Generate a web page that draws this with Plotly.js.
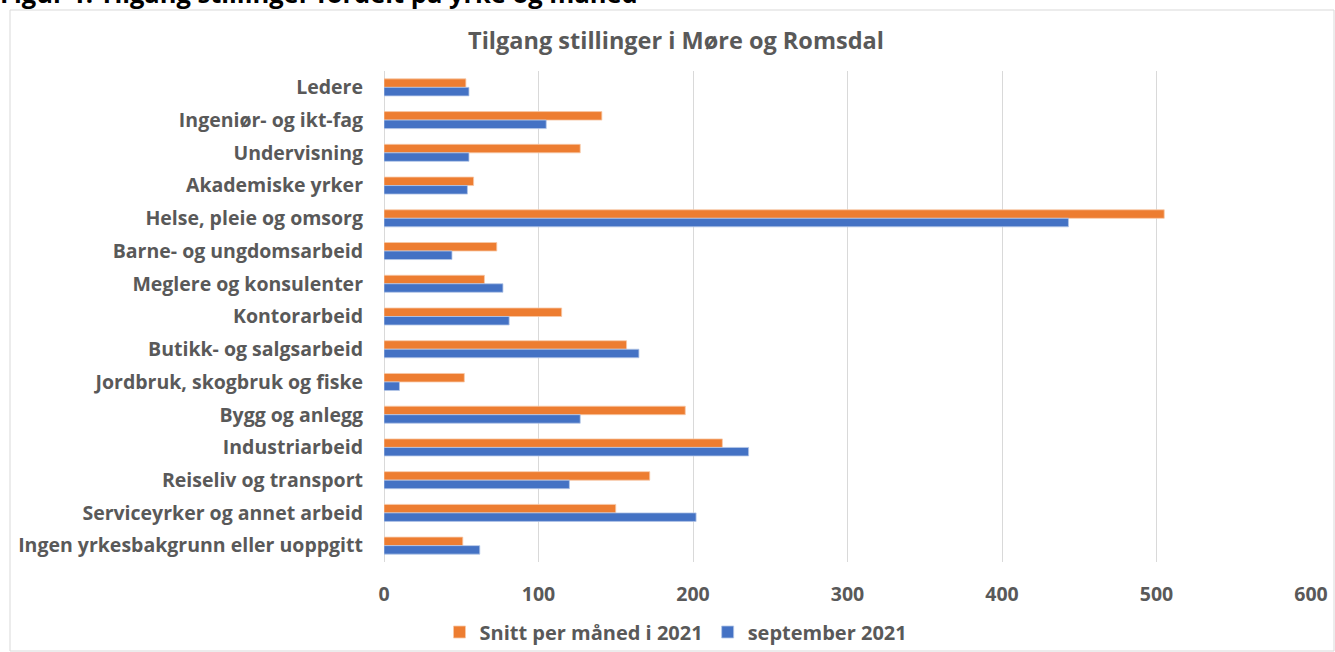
<!DOCTYPE html>
<html>
<head>
<meta charset="utf-8">
<script src="https://cdn.plot.ly/plotly-3.0.1.min.js"></script>
<style>
html,body{margin:0;padding:0;background:#fff;}
#chart{width:1335px;height:652px;}
</style>
</head>
<body>
<div id="chart"></div>
<script>
const categories = [
  "Ledere",
  "Ingeniør- og ikt-fag",
  "Undervisning",
  "Akademiske yrker",
  "Helse, pleie og omsorg",
  "Barne- og ungdomsarbeid",
  "Meglere og konsulenter",
  "Kontorarbeid",
  "Butikk- og salgsarbeid",
  "Jordbruk, skogbruk og fiske",
  "Bygg og anlegg",
  "Industriarbeid",
  "Reiseliv og transport",
  "Serviceyrker og annet arbeid",
  "Ingen yrkesbakgrunn eller uoppgitt"
];
const snitt2021 = [53, 141, 127, 58, 505, 73, 65, 115, 157, 52, 195, 219, 172, 150, 51];
const september2021 = [55, 105, 55, 54, 443, 44, 77, 81, 165, 10, 127, 236, 120, 202, 62];
const seriesNames = ["Snitt per måned i 2021", "september 2021"];
const xTicks = [0, 100, 200, 300, 400, 500, 600];

const W = 1335, H = 652;
const M = {l: 384, r: 24, t: 71, b: 90};
const pw = W - M.l - M.r, ph = H - M.t - M.b;
const px = v => (v - M.l) / pw;
const py = v => (H - M.b - v) / ph;

const FONT = "'Open Sans', sans-serif";
const GREY = "#595959";

const traces = [
  {
    type: "bar", orientation: "h", name: seriesNames[0],
    y: categories, x: snitt2021,
    marker: {color: "#ED7D31", line: {color: "#f8c9a8", width: 0.8}},
    hoverinfo: "x+y"
  },
  {
    type: "bar", orientation: "h", name: seriesNames[1],
    y: categories, x: september2021,
    marker: {color: "#4472C4", line: {color: "#b4c7e7", width: 0.8}},
    hoverinfo: "x+y"
  }
];

const layout = {
  width: W, height: H,
  margin: M,
  paper_bgcolor: "#fff", plot_bgcolor: "#fff",
  barmode: "group",
  bargap: 0.48, bargroupgap: 0,
  font: {family: FONT, color: GREY},
  title: {
    text: "Tilgang stillinger i Møre og Romsdal",
    font: {family: FONT, size: 23.5, color: GREY, weight: "bold"},
    x: 676 / W, xref: "container", xanchor: "center",
    y: 1 - 41 / H, yref: "container", yanchor: "middle"
  },
  xaxis: {
    range: [0, 600], tickvals: xTicks, ticktext: xTicks.map(String),
    showgrid: true, gridcolor: "#d9d9d9", gridwidth: 1,
    zeroline: true, zerolinecolor: "#d9d9d9", zerolinewidth: 1,
    showline: false, ticks: "",
    tickfont: {family: FONT, size: 19.5, color: GREY, weight: "bold"},
    ticklabelstandoff: 18, fixedrange: true
  },
  yaxis: {
    type: "category", autorange: "reversed",
    showgrid: false, zeroline: false, showline: false, ticks: "",
    tickfont: {family: FONT, size: 19.5, color: GREY, weight: "bold"},
    ticklabelstandoff: 20, fixedrange: true
  },
  legend: {
    orientation: "h", xref: "container", yref: "container",
    x: 676 / W, xanchor: "center", y: 1 - 632 / H, yanchor: "middle",
    font: {family: FONT, size: 20, color: GREY, weight: "bold"},
    bgcolor: "rgba(0,0,0,0)",
    traceorder: "normal", itemwidth: 30
  },
  shapes: [
    {
      type: "rect", xref: "paper", yref: "paper",
      x0: px(10), x1: px(1334), y0: py(651), y1: py(10),
      line: {color: "#d9d9d9", width: 1}, fillcolor: "rgba(0,0,0,0)", layer: "below"
    }
  ],
  annotations: [
    {
      text: "<b>Figur 1: Tilgang stillinger fordelt på yrke og måned</b>",
      xref: "paper", yref: "paper",
      x: px(-2), xanchor: "left", y: py(12), yanchor: "bottom",
      showarrow: false, font: {family: FONT, size: 25.5, color: "#000"}
    }
  ]
};

Plotly.newPlot("chart", traces, layout, {displayModeBar: false, staticPlot: true});
</script>
</body>
</html>
